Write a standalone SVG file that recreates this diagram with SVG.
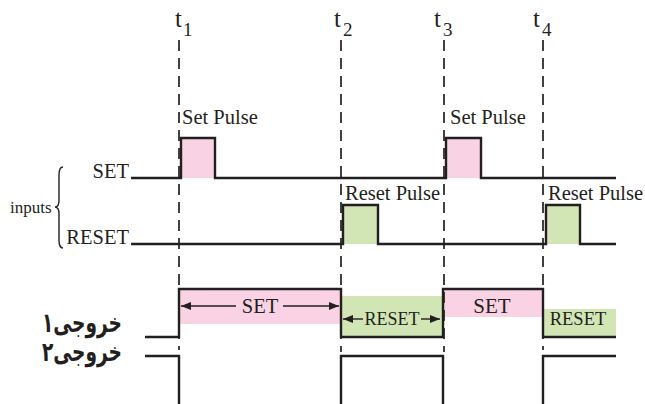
<svg xmlns="http://www.w3.org/2000/svg" width="645" height="404" viewBox="0 0 645 404">
<style>
.t{font-family:"Liberation Serif","Times New Roman",serif;fill:#231f20}
.fa{font-family:"DejaVu Sans",sans-serif;font-weight:bold;fill:#231f20}
.dash{stroke:#231f20;stroke-width:1.7;stroke-dasharray:11,7;fill:none}
.w{stroke:#231f20;stroke-width:2.4;fill:none;stroke-linejoin:miter}
.thin{stroke:#231f20;stroke-width:1.4;fill:none}
.pink{fill:#f9d3e3}
.green{fill:#d2e6b5}
</style>
<defs>
<marker id="ah" viewBox="0 0 10 8" refX="10" refY="4" markerWidth="11" markerHeight="8" markerUnits="userSpaceOnUse" orient="auto">
<path d="M0,0 L10,4 L0,8 Z" fill="#231f20"/>
</marker>
</defs>
<rect width="645" height="404" fill="#fff"/>

<g id="fills">
<rect class="pink" x="181" y="138" width="34" height="40"/>
<rect class="pink" x="446" y="138" width="35" height="40"/>
<rect class="green" x="343" y="205" width="35" height="39"/>
<rect class="green" x="546" y="205" width="34" height="39"/>
<rect class="pink" x="179" y="289" width="162" height="35"/>
<rect class="green" x="341" y="296" width="102" height="41"/>
<rect class="pink" x="443" y="289" width="100" height="28"/>
<rect class="green" x="543" y="309" width="73" height="28"/>
</g>

<g id="time-markers">
<line class="dash" x1="179" y1="40" x2="179" y2="350"/>
<line class="dash" x1="341" y1="40" x2="341" y2="352"/>
<line class="dash" x1="444" y1="40" x2="444" y2="352"/>
<line class="dash" x1="543" y1="40" x2="543" y2="350"/>
<text class="t" x="175" y="27" font-size="25">t<tspan font-size="19" dx="1" dy="9">1</tspan></text>
<text class="t" x="334" y="27" font-size="25">t<tspan font-size="19" dx="2" dy="9">2</tspan></text>
<text class="t" x="434" y="27" font-size="25">t<tspan font-size="19" dx="2" dy="9">3</tspan></text>
<text class="t" x="533" y="27" font-size="25">t<tspan font-size="19" dx="2" dy="9">4</tspan></text>
</g>

<g id="set-input">
<path class="w" d="M131,178 H181 V138 H215 V178 H446 V138 H481 V178 H616"/>
<text class="t" x="129" y="178" font-size="20.5" text-anchor="end">SET</text>
<text class="t" x="182" y="124" font-size="20.5">Set Pulse</text>
<text class="t" x="450" y="124" font-size="20.5">Set Pulse</text>
</g>

<g id="reset-input">
<path class="w" d="M131,244 H343 V205 H378 V244 H546 V205 H580 V244 H616"/>
<text class="t" x="129" y="244" font-size="20.5" text-anchor="end">RESET</text>
<text class="t" x="345" y="200" font-size="20.5">Reset Pulse</text>
<text class="t" x="548" y="200" font-size="20.5">Reset Pulse</text>
</g>

<g id="inputs-brace">
<path class="thin" d="M63,167 Q59,167 59,175 L59,200 Q59,207 55,207 Q59,207 59,214 L59,240 Q59,248 63,248"/>
<text class="t" x="10" y="213" font-size="17">inputs</text>
</g>

<g id="output1">
<path class="w" d="M145,337 H179 V289 H341 V337 H443 V289 H543 V337 H616"/>
<text class="fa" x="42" y="332" font-size="27" textLength="80" lengthAdjust="spacingAndGlyphs">خروجی۱</text>
</g>

<g id="output2">
<path class="w" d="M145,356 H179 V404 M341,404 V356 H443 V404 M543,404 V356 H616"/>
<text class="fa" x="42" y="361" font-size="27" textLength="80" lengthAdjust="spacingAndGlyphs">خروجی۲</text>
</g>

<g id="connectors">
<line class="thin" stroke-width="1.9" x1="236" y1="306" x2="181" y2="306" marker-end="url(#ah)"/>
<line class="thin" stroke-width="1.9" x1="283" y1="306" x2="339" y2="306" marker-end="url(#ah)"/>
<line class="thin" stroke-width="1.9" x1="363" y1="319" x2="343" y2="319" marker-end="url(#ah)"/>
<line class="thin" stroke-width="1.9" x1="421" y1="319" x2="440" y2="319" marker-end="url(#ah)"/>
</g>

<g id="state-labels">
<text class="t" x="260" y="313" font-size="20.5" text-anchor="middle">SET</text>
<text class="t" x="392" y="325" font-size="18" text-anchor="middle">RESET</text>
<text class="t" x="492" y="313" font-size="21" text-anchor="middle">SET</text>
<text class="t" x="578" y="325" font-size="18.5" text-anchor="middle">RESET</text>
</g>
</svg>
